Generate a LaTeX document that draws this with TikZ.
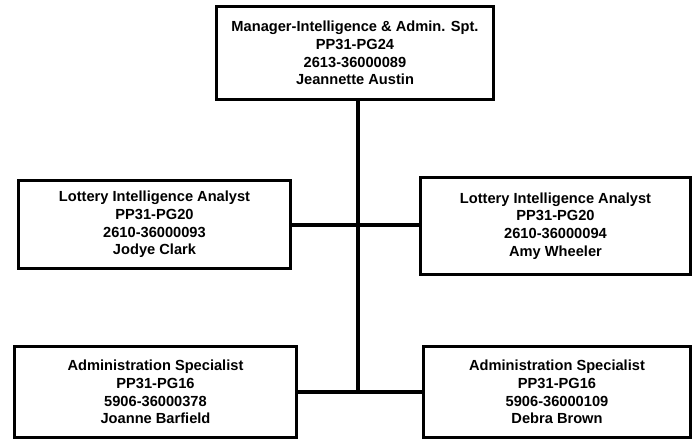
\documentclass[tikz,border=0pt]{standalone}
\usepackage{fontspec}
\setmainfont{Liberation Sans}
\usepackage{tikz}

\begin{document}
\begin{tikzpicture}[
  postbox/.style={draw, line width=2.4pt, fill=white, align=center,
    font=\bfseries\fontsize{12.5}{15}\selectfont, inner sep=2pt},
  link/.style={line width=3pt}]

\useasboundingbox (0,0) rectangle (20.79,13.2);

%% boxes
\node[postbox, minimum width=8.32cm, minimum height=2.8cm] (mgr) at (10.65,11.61)
  {Manager-Intelligence \& Admin. Spt.\\PP31-PG24\\2613-36000089\\Jeannette Austin};
\node[postbox, minimum width=8.17cm, minimum height=2.65cm] (clark) at (4.635,6.465)
  {Lottery Intelligence Analyst\\PP31-PG20\\2610-36000093\\Jodye Clark};
\node[postbox, minimum width=8.1cm, minimum height=2.92cm] (wheeler) at (16.665,6.42)
  {Lottery Intelligence Analyst\\PP31-PG20\\2610-36000094\\Amy Wheeler};
\node[postbox, minimum width=8.47cm, minimum height=2.74cm] (barfield) at (4.665,1.44)
  {Administration Specialist\\PP31-PG16\\5906-36000378\\Joanne Barfield};
\node[postbox, minimum width=8.02cm, minimum height=2.74cm] (brown) at (16.71,1.44)
  {Administration Specialist\\PP31-PG16\\5906-36000109\\Debra Brown};

%%% lines
\coordinate (hub) at (10.74,6.45);
\coordinate (foot) at (10.74,1.44);

\draw[link] (mgr.south -| foot) -- (foot);
\draw[link] (clark.east |- hub) -- (wheeler.west |- hub);
\draw[link] (barfield.east) -- (brown.west);

\end{tikzpicture}
\end{document}
